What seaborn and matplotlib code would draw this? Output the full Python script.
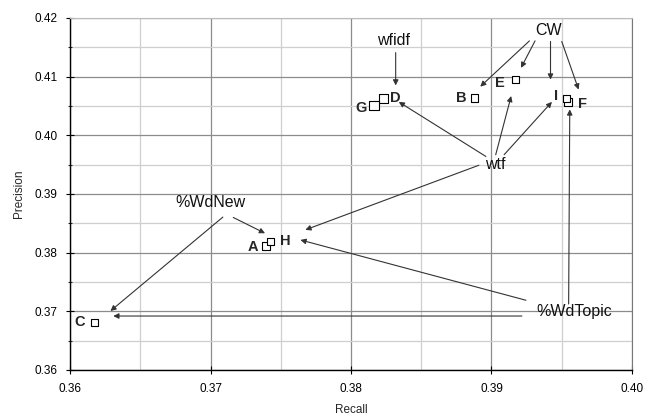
import matplotlib
matplotlib.use("Agg")
import matplotlib.pyplot as plt
from matplotlib.ticker import MultipleLocator, FormatStrFormatter
import seaborn as sns
import pandas as pd

# runs (recall, precision)
names = ["A", "B", "C", "D", "E", "F", "G", "H", "I"]
recall = [0.37397, 0.38880, 0.36173, 0.38232, 0.39170, 0.39544, 0.38163, 0.37426, 0.39533]
precision = [0.38114, 0.40640, 0.36813, 0.40629, 0.40955, 0.40568, 0.40514, 0.38189, 0.40629]
marker_size = [30, 30, 30, 38, 30, 30, 45, 30, 30]

# where the bold letters sit
letter_x = [0.37300, 0.38784, 0.36071, 0.38313, 0.39059, 0.39647, 0.38069, 0.37529, 0.39458]
letter_y = [0.38103, 0.40636, 0.36823, 0.40636, 0.40897, 0.40539, 0.40470, 0.38200, 0.40664]

# group labels
groups = ["wfidf", "CW", "wtf", "%WdNew", "%WdTopic"]
group_x = [0.38301, 0.39407, 0.39029, 0.37000, 0.39586]
group_y = [0.41609, 0.41792, 0.39501, 0.38857, 0.36989]

# arrows: start (tail) and end (head)
arrow_x0 = [0.38318, 0.3927, 0.3931, 0.3942, 0.3950, 0.3896, 0.3903, 0.3909, 0.3891,
            0.37088, 0.37162, 0.39245, 0.39216, 0.39549]
arrow_y0 = [0.4141, 0.4161, 0.4161, 0.4160, 0.4160, 0.3964, 0.3967, 0.3967, 0.3949,
            0.38606, 0.3860, 0.37189, 0.3692, 0.37125]
arrow_x1 = [0.38318, 0.3892, 0.3921, 0.3942, 0.3962, 0.3834, 0.3914, 0.3943, 0.37675,
            0.36288, 0.37388, 0.3764, 0.36308, 0.39557]
arrow_y1 = [0.4085, 0.4083, 0.4115, 0.4095, 0.4078, 0.4057, 0.4067, 0.4057, 0.38389,
            0.37006, 0.38331, 0.38217, 0.3692, 0.40442]

sns.set_style("white")
plt.rcParams["font.family"] = ["Liberation Sans", "DejaVu Sans"]

df = pd.DataFrame({"Recall": recall, "Precision": precision, "run": names, "size": marker_size})

fig = plt.figure(figsize=(6.47, 4.17), dpi=100)
ax = fig.add_axes([70 / 647, 1 - 370 / 417, 562 / 647, 352 / 417])

# grid like the spreadsheet chart
ax.xaxis.set_major_locator(MultipleLocator(0.01))
ax.xaxis.set_minor_locator(MultipleLocator(0.005))
ax.yaxis.set_major_locator(MultipleLocator(0.01))
ax.yaxis.set_minor_locator(MultipleLocator(0.005))
ax.grid(which="major", color="#8c8c8c", lw=0.9)
ax.grid(which="minor", color="#cfcfcf", lw=0.9)
ax.set_axisbelow(True)

sns.scatterplot(data=df, x="Recall", y="Precision", size="size", sizes=(30, 45),
                marker="s", color="white", edgecolor="black", linewidth=0.8,
                legend=False, ax=ax, zorder=3)

for i in range(len(names)):
    ax.text(letter_x[i], letter_y[i], names[i], fontsize=10.5, fontweight="bold",
            ha="center", va="center", zorder=4)

for i in range(len(groups)):
    ax.text(group_x[i], group_y[i], groups[i], fontsize=11.5, ha="center", va="center",
            color="#111111", zorder=4)

for i in range(len(arrow_x0)):
    ax.annotate("", xy=(arrow_x1[i], arrow_y1[i]), xytext=(arrow_x0[i], arrow_y0[i]),
                arrowprops=dict(arrowstyle="-|>", color="#333333", lw=0.8,
                                mutation_scale=8, shrinkA=0, shrinkB=0),
                zorder=4)

ax.set_xlim(0.36, 0.40)
ax.set_ylim(0.36, 0.42)
ax.xaxis.set_major_formatter(FormatStrFormatter("%.2f"))
ax.yaxis.set_major_formatter(FormatStrFormatter("%.2f"))

for side in ["left", "bottom"]:
    ax.spines[side].set_color("black")
    ax.spines[side].set_linewidth(1.0)
ax.spines["top"].set_color("#bbbbbb")
ax.spines["right"].set_color("#777777")

ax.tick_params(which="major", direction="inout", length=6, width=0.8, labelsize=8.5,
               colors="black", pad=6)
ax.tick_params(which="minor", axis="y", direction="inout", length=3, width=0.8, left=True)
ax.tick_params(which="minor", axis="x", length=0)
ax.tick_params(axis="x", bottom=True)
ax.tick_params(axis="y", left=True)

ax.set_xlabel("Recall", fontsize=8.5, labelpad=7)
ax.set_ylabel("Precision", fontsize=8.5, labelpad=7)

fig.savefig("out.png", dpi=100)
